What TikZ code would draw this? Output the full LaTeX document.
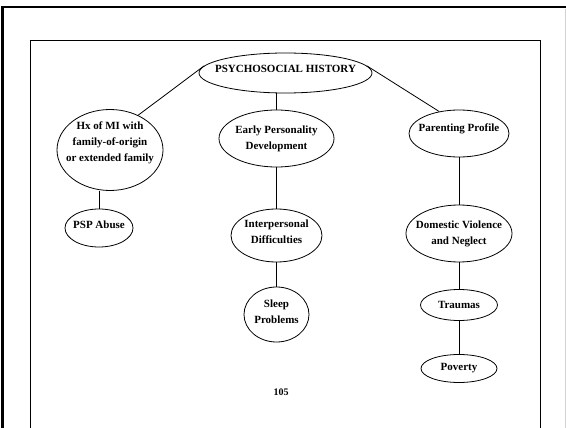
\documentclass[tikz,border=0pt]{standalone}
\usepackage{fontspec}
\setmainfont{Liberation Serif}
\usepackage{tikz}
\usetikzlibrary{shapes.geometric}

\begin{document}
\begin{tikzpicture}[
    x=1pt, y=-1pt,
    oval/.style={ellipse, draw=black, fill=white, line width=0.8pt, inner xsep=-20pt, inner ysep=0pt, align=center, font=\bfseries\fontsize{11}{16}\selectfont},
    link_style/.style={draw=black, line width=0.8pt},
    frame_style/.style={draw=black, line width=2.6pt},
    page_style/.style={draw=black, line width=0.8pt}
]

\useasboundingbox (0,0) rectangle (566,428);

% Slide frame and page box
\draw[frame_style] (2.5,440) -- (2.5,7) -- (566,7);
\draw[gray!35, line width=0.8pt] (565,9) -- (565,440);
\draw[page_style] (30,440) -- (30,40) -- (540,40) -- (540,440);

% Root node
\node[oval, minimum width=173pt, minimum height=40pt, text depth=9pt] (hist) at (285.5,73) {PSYCHOSOCIAL HISTORY};

% Left branch
\node[oval, minimum width=106pt, minimum height=81pt, text depth=16pt] (hx) at (110,150) {Hx of MI with\\family-of-origin\\or extended family};
\node[oval, minimum width=68pt, minimum height=38pt, text depth=6pt] (psp) at (99,228) {PSP Abuse};

% Center branch
\node[oval, minimum width=115pt, minimum height=57pt] (ep) at (276.5,138.5) {Early Personality\\Development};
\node[oval, minimum width=91pt, minimum height=53pt, text depth=7pt] (ip) at (276.5,235.5) {Interpersonal\\Difficulties};
\node[oval, minimum width=65pt, minimum height=55pt, text depth=5pt] (sleep) at (276.5,314.5) {Sleep\\Problems};

% Right branch
\node[oval, minimum width=100pt, minimum height=47pt, text depth=11pt] (pp) at (459,133.5) {Parenting Profile};
\node[oval, minimum width=106pt, minimum height=57pt] (dv) at (459,233.5) {Domestic Violence\\and Neglect};
\node[oval, minimum width=77pt, minimum height=31pt] (traumas) at (459,305) {Traumas};
\node[oval, minimum width=76pt, minimum height=28pt] (poverty) at (459,368.5) {Poverty};

% Page number
\node[font=\bfseries\fontsize{10}{12}\selectfont] (pagenum) at (281,392) {105};

% Connectors from the root
\draw[link_style] (hist.175) -- (hx.51);
\draw[link_style] (ep.north) -- (ep.north |- hist.south);
\draw[link_style] (hist.5) -- (pp.132);

% Connectors down each branch
\draw[link_style] (psp.north) -- (psp.north |- hx.south);
\draw[link_style] (ep) -- (ip);
\draw[link_style] (ip) -- (sleep);
\draw[link_style] (pp) -- (dv);
\draw[link_style] (dv) -- (traumas);
\draw[link_style] (traumas) -- (poverty);

\end{tikzpicture}
\end{document}
